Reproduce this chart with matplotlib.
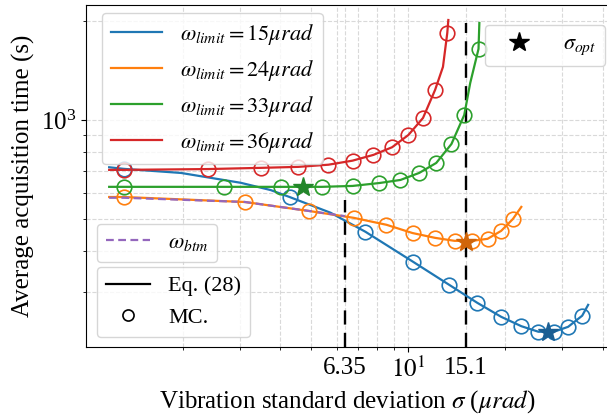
import matplotlib
matplotlib.use('Agg')
import matplotlib.pyplot as plt
from matplotlib.lines import Line2D
from matplotlib.ticker import NullFormatter, FixedLocator, LogLocator

plt.rcParams['font.family'] = ['Liberation Serif', 'DejaVu Serif']
plt.rcParams['mathtext.fontset'] = 'stix'
plt.rcParams['font.size'] = 18

# ---------------- data ----------------
omega_labels = [r'$\omega_{limit} = 15\mu rad$', r'$\omega_{limit} = 24\mu rad$',
                r'$\omega_{limit} = 33\mu rad$', r'$\omega_{limit} = 36\mu rad$']
series_colors = ['#1f77b4', '#ff7f0e', '#2ca02c', '#d62728']
star_colors = ['#1a5f94', '#d0650a', '#23862a']

# Eq. (28) curves
eq_x_15 = [1.18, 1.31, 1.97, 3.02, 3.74, 4.28, 5.74, 7.36, 10.36, 13.4, 16.35, 19.4, 22.4, 25.3, 28.3, 31.3, 34.6, 36.1]
eq_y_15 = [718, 710, 690, 644, 612, 583, 522, 457, 370, 315, 278, 252, 236, 227, 227, 235, 254, 274]
eq_x_24 = [1.18, 1.31, 3.11, 4.90, 6.76, 8.55, 10.3, 12.1, 13.9, 15.8, 17.6, 19.4, 21.1, 22.4]
eq_y_24 = [583, 583, 563, 529, 504, 480, 453, 438, 429, 429, 435, 460, 500, 544]
eq_x_33 = [1.18, 1.31, 2.67, 4.04, 5.38, 6.71, 8.13, 9.45, 10.8, 12.2, 13.6, 14.9, 15.55, 16.5, 16.6]
eq_y_33 = [626, 626, 626, 626, 626, 630, 643, 657, 690, 740, 845, 1035, 1295, 1644, 1972]
eq_x_36 = [1.18, 1.31, 2.39, 3.48, 4.56, 5.65, 6.71, 7.79, 8.9, 10.0, 11.1, 12.1, 12.8, 13.2, 13.3]
eq_y_36 = [705, 705, 709, 715, 720, 731, 752, 783, 826, 900, 1014, 1234, 1450, 1838, 2013]

# Monte-Carlo points
mc_x_15 = [1.31, 4.28, 7.36, 10.36, 13.4, 16.35, 19.4, 22.4, 25.3, 28.3, 31.3, 34.6]
mc_y_15 = [710, 583, 457, 370, 315, 278, 252, 236, 227, 227, 235, 254]
mc_x_24 = [1.31, 3.11, 4.90, 6.76, 8.55, 10.3, 12.1, 13.9, 15.8, 17.6, 19.4, 21.1]
mc_y_24 = [583, 563, 529, 504, 480, 453, 438, 429, 429, 435, 460, 500]
mc_x_33 = [1.31, 2.67, 4.04, 5.38, 6.71, 8.13, 9.45, 10.8, 12.2, 13.6, 14.9, 16.5]
mc_y_33 = [626, 626, 626, 626, 630, 643, 657, 690, 740, 845, 1035, 1644]
mc_x_36 = [1.31, 2.39, 3.48, 4.56, 5.65, 6.71, 7.79, 8.9, 10.0, 11.1, 12.1, 13.2]
mc_y_36 = [705, 709, 715, 720, 731, 752, 783, 826, 900, 1014, 1234, 1838]

# omega_btm curve
btm_x = [1.18, 1.31, 3.11, 4.90, 6.35]
btm_y = [580, 580, 563, 529, 510]

# optimal sigma stars (15, 24, 33)
opt_x = [27.1, 15.1, 4.70]
opt_y = [227, 425, 626]

# vertical reference lines
vline_x = [6.35, 15.1]
vline_top = [571, 1972]

xtick_vals = [6.35, 10, 15.1]
xtick_labels = ['6.35', r'$10^1$', '15.1']
xlim = (1.0, 41.9)
ylim = (204, 2236)

eq_x = [eq_x_15, eq_x_24, eq_x_33, eq_x_36]
eq_y = [eq_y_15, eq_y_24, eq_y_33, eq_y_36]
mc_x = [mc_x_15, mc_x_24, mc_x_33, mc_x_36]
mc_y = [mc_y_15, mc_y_24, mc_y_33, mc_y_36]

# ---------------- figure ----------------
fig = plt.figure(figsize=(6.07, 4.2), dpi=100)
ax = fig.add_axes([86/607, (420-347)/420, (609-86)/607, (347-5)/420])
ax.set_xscale('log')
ax.set_yscale('log')

eq_lines = []
for i in range(4):
    ln, = ax.plot(eq_x[i], eq_y[i], color=series_colors[i], lw=1.6, label=omega_labels[i], zorder=3)
    eq_lines.append(ln)
    ax.plot(mc_x[i], mc_y[i], 'o', mfc='none', mec=series_colors[i], ms=10.5, mew=1.2, zorder=4)

btm_line, = ax.plot(btm_x, btm_y, color='#9467bd', lw=1.6, ls=(0, (3.5, 2.0)), label=r'$\omega_{btm}$', zorder=3.5)

for i in range(3):
    ax.plot(opt_x[i], opt_y[i], '*', color=star_colors[i], ms=15, zorder=5)

ax.vlines(vline_x, ylim[0], vline_top, colors='black', linestyles=(0, (6, 3.5)), lw=1.7, zorder=2.5)

ax.set_xlim(*xlim)
ax.set_ylim(*ylim)

ax.xaxis.set_major_locator(FixedLocator(xtick_vals))
ax.set_xticklabels(xtick_labels)
ax.xaxis.set_minor_locator(LogLocator(base=10, subs=range(2, 10)))
ax.xaxis.set_minor_formatter(NullFormatter())
ax.yaxis.set_minor_formatter(NullFormatter())
xt = ax.xaxis.get_major_ticks()
for i in (0, 2):
    xt[i].tick1line.set_visible(False)

ax.grid(True, which='both', color='0.85', ls='--', lw=0.8, zorder=0)
ax.set_axisbelow(True)

ax.set_xlabel(r'Vibration standard deviation $\sigma$ ($\mu rad$)')
ax.set_ylabel('Average acquisition time (s)')

leg_kw = dict(fontsize=16, handlelength=2.3, borderaxespad=0)
leg_kw2 = dict(fontsize=16, handlelength=2.0, borderaxespad=0)
leg1 = ax.legend(handles=eq_lines, loc='upper left',
                 bbox_to_anchor=((102-86)/523, (347-13)/342), **leg_kw)
ax.add_artist(leg1)
star_proxy = Line2D([], [], ls='none', marker='*', color='black', ms=15, label=r'$\sigma_{opt}$')
leg2 = ax.legend(handles=[star_proxy], loc='upper right',
                 bbox_to_anchor=((605-86)/523, (347-25)/342), **leg_kw)
ax.add_artist(leg2)
leg3 = ax.legend(handles=[btm_line], loc='lower left',
                 bbox_to_anchor=((97-86)/523, (347-262)/342), **leg_kw2)
ax.add_artist(leg3)
eq_proxy = Line2D([], [], color='black', lw=1.6, label='Eq. (28)')
mc_proxy = Line2D([], [], ls='none', marker='o', mfc='none', mec='black', ms=8, mew=1.2, label='MC.')
ax.legend(handles=[eq_proxy, mc_proxy], loc='lower left',
          bbox_to_anchor=((97-86)/523, (347-337)/342), **leg_kw2)

fig.savefig('out.png', dpi=100)
